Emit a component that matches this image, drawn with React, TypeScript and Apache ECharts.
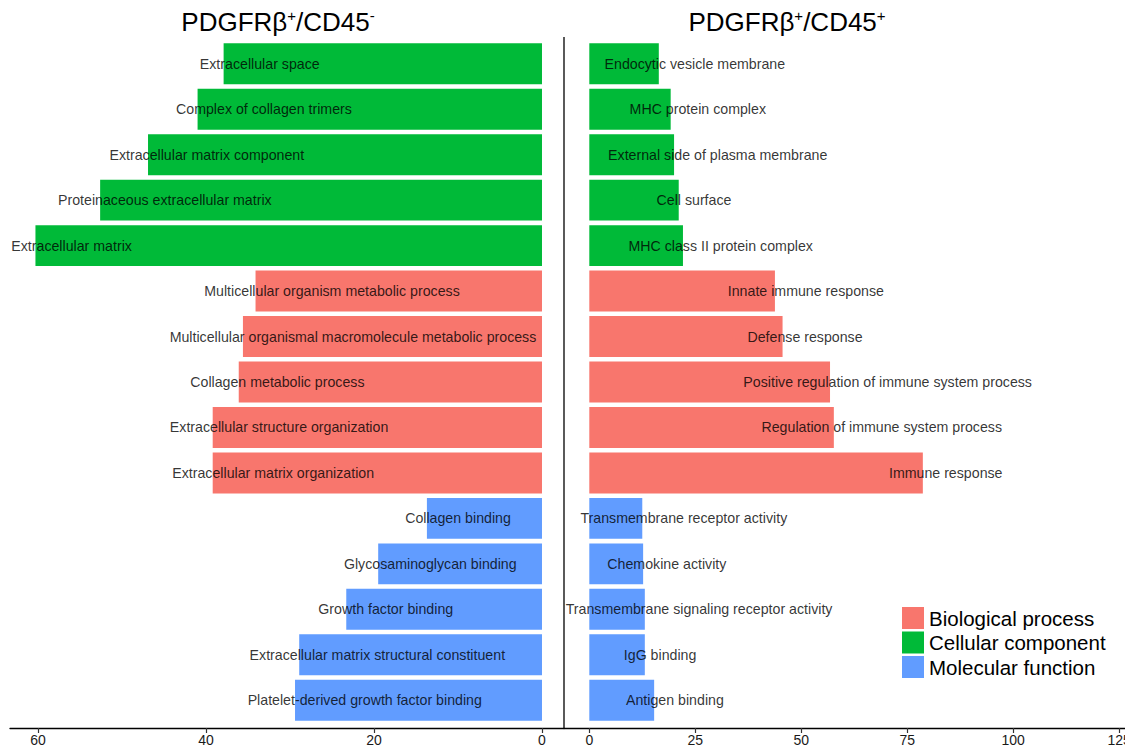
import React, { useEffect, useRef } from "react";
import * as echarts from "echarts";

const GROUPS = ["Biological process", "Cellular component", "Molecular function"];
const GROUP_COLORS = ["#F8766D", "#00BA38", "#619CFF"];

const leftTerms = [
  "Extracellular space",
  "Complex of collagen trimers",
  "Extracellular matrix component",
  "Proteinaceous extracellular matrix",
  "Extracellular matrix",
  "Multicellular organism metabolic process",
  "Multicellular organismal macromolecule metabolic process",
  "Collagen metabolic process",
  "Extracellular structure organization",
  "Extracellular matrix organization",
  "Collagen binding",
  "Glycosaminoglycan binding",
  "Growth factor binding",
  "Extracellular matrix structural constituent",
  "Platelet-derived growth factor binding",
];
const leftValues = [37.9, 41.0, 46.9, 52.6, 60.3, 34.1, 35.6, 36.1, 39.2, 39.2, 13.7, 19.5, 23.3, 28.9, 29.4];

const rightTerms = [
  "Endocytic vesicle membrane",
  "MHC protein complex",
  "External side of plasma membrane",
  "Cell surface",
  "MHC class II protein complex",
  "Innate immune response",
  "Defense response",
  "Positive regulation of immune system process",
  "Regulation of immune system process",
  "Immune response",
  "Transmembrane receptor activity",
  "Chemokine activity",
  "Transmembrane signaling receptor activity",
  "IgG binding",
  "Antigen binding",
];
const rightValues = [16.4, 19.2, 20.0, 21.1, 22.1, 43.8, 45.6, 56.8, 57.7, 78.7, 12.5, 12.7, 13.1, 13.1, 15.3];

// group index per row (0 BP, 1 CC, 2 MF) — same order on both sides
const rowGroups = [1, 1, 1, 1, 1, 0, 0, 0, 0, 0, 2, 2, 2, 2, 2];

// label anchor (centre of text), in axis units
const leftLabelAt = [33.6, 33.1, 39.9, 44.9, 56.0, 25.0, 22.5, 31.5, 31.3, 32.0, 10.0, 13.3, 18.6, 19.6, 21.1];
const rightLabelAt = [24.9, 25.6, 30.3, 24.7, 31.0, 51.1, 50.9, 70.4, 69.0, 84.1, 22.3, 18.3, 25.9, 16.7, 20.2];

const leftTicks = [0, 20, 40, 60];
const rightTicks = [0, 25, 50, 75, 100, 125];

const FONT = 'Arial, "Liberation Sans", sans-serif';

export default function App() {
  const ref = useRef<HTMLDivElement>(null);
  useEffect(() => {
    if (!ref.current) return;
    const chart = echarts.init(ref.current, null, { renderer: "svg" });

    const xAxisBase = (gridIndex: number, ticks: number[]) => ({
      type: "value",
      gridIndex,
      offset: 5,
      splitLine: { show: false },
      axisLine: { show: true, lineStyle: { color: "#000", width: 1.3 } },
      axisTick: { show: true, customValues: ticks, length: 5, lineStyle: { color: "#333", width: 1.2 } },
      axisLabel: {
        show: true,
        customValues: ticks,
        fontSize: 14,
        color: "#1a1a1a",
        fontFamily: FONT,
        margin: 5,
        hideOverlap: false,
      },
    });

    const barSeries: any[] = [];
    [leftValues, rightValues].forEach((vals, gi) => {
      GROUPS.forEach((g, k) => {
        barSeries.push({
          type: "bar",
          name: g,
          xAxisIndex: gi,
          yAxisIndex: gi,
          stack: "s" + gi,
          barCategoryGap: "10%",
          itemStyle: { color: GROUP_COLORS[k] },
          data: vals.map((v, i) => (rowGroups[i] === k ? v : "-")),
          silent: true,
        });
      });
    });

    const labelSeries = [
      { terms: leftTerms, at: leftLabelAt },
      { terms: rightTerms, at: rightLabelAt },
    ].map((s, gi) => ({
      type: "scatter",
      xAxisIndex: gi,
      yAxisIndex: gi,
      symbolSize: 1,
      z: 10,
      silent: true,
      itemStyle: { color: "rgba(0,0,0,0)" },
      label: {
        show: true,
        position: "inside",
        formatter: (p: any) => p.value[1],
        color: "#000",
        fontSize: 14.2,
        fontFamily: FONT,
      },
      data: s.terms.map((t, i) => [s.at[i], t]),
    }));

    const titleRich = {
      a: { fontSize: 26, fontFamily: FONT, color: "#000", fontWeight: "normal" },
      s: { fontSize: 15, fontFamily: FONT, color: "#000", fontWeight: "normal", padding: [0, 0, 13, 0] },
    };

    chart.setOption({
      animation: false,
      backgroundColor: "#fff",
      title: [
        {
          text: "{a|PDGFRβ}{s|+}{a|/CD45}{s|-}",
          left: 278,
          textAlign: "center",
          top: 8,
          padding: 0,
          textStyle: { fontWeight: "normal", rich: titleRich },
        },
        {
          text: "{a|PDGFRβ}{s|+}{a|/CD45}{s|+}",
          left: 787,
          textAlign: "center",
          top: 8,
          padding: 0,
          textStyle: { fontWeight: "normal", rich: titleRich },
        },
      ],
      legend: {
        orient: "vertical",
        left: 902,
        top: 607,
        padding: 0,
        itemWidth: 22,
        itemHeight: 22,
        itemGap: 2.5,
        icon: "rect",
        selectedMode: false,
        data: GROUPS,
        textStyle: { fontSize: 20.5, color: "#000", fontFamily: FONT },
      },
      grid: [
        { left: 10, top: 41, width: 554, height: 682, containLabel: false, outerBoundsMode: "none" },
        { left: 564, top: 41, width: 561, height: 682, containLabel: false, outerBoundsMode: "none" },
      ],
      xAxis: [
        { ...xAxisBase(0, leftTicks), inverse: true, min: -2.62, max: 63.33 },
        { ...xAxisBase(1, rightTicks), min: -5.97, max: 126.4 },
      ],
      yAxis: [
        { type: "category", gridIndex: 0, inverse: true, data: leftTerms, show: false },
        { type: "category", gridIndex: 1, inverse: true, data: rightTerms, show: false },
      ],
      graphic: [
        {
          type: "line",
          shape: { x1: 564, y1: 37, x2: 564, y2: 728 },
          style: { stroke: "#000", lineWidth: 1.3 },
          z: 20,
        },
      ],
      series: [...barSeries, ...labelSeries],
    });

    return () => chart.dispose();
  }, []);

  return (
    <div
      ref={ref}
      style={{ position: "fixed", left: 0, top: 0, width: 1125, height: 754, background: "#fff" }}
    />
  );
}
